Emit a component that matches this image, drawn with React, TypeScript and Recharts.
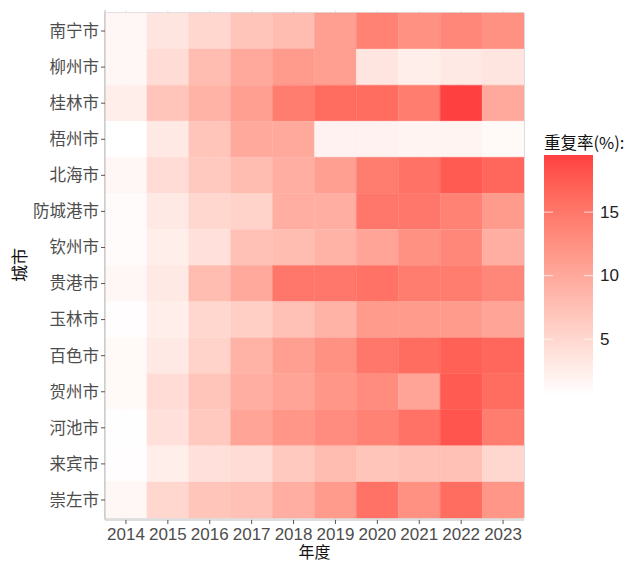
import React from 'react';
import { BarChart, Bar, XAxis, YAxis, Cell, CartesianGrid, ReferenceArea } from 'recharts';

const cities = ['南宁市', '柳州市', '桂林市', '梧州市', '北海市', '防城港市', '钦州市', '贵港市', '玉林市', '百色市', '贺州市', '河池市', '来宾市', '崇左市'];
const years = ['2014', '2015', '2016', '2017', '2018', '2019', '2020', '2021', '2022', '2023'];

// 重复率(%) per city, one value per year 2014..2023
const nanning = [1.5, 3.5, 5.0, 7.0, 8.0, 11.0, 14.0, 12.5, 13.5, 12.5];
const liuzhou = [1.5, 4.5, 8.0, 10.0, 11.5, 11.0, 3.5, 2.5, 3.0, 3.5];
const guilin = [2.5, 7.0, 9.0, 11.0, 14.5, 16.0, 16.0, 14.5, 19.5, 10.0];
const wuzhou = [0.6, 3.0, 7.0, 10.0, 10.0, 2.0, 2.0, 1.8, 1.8, 1.3];
const beihai = [1.5, 4.5, 6.5, 8.0, 9.5, 11.0, 14.5, 15.5, 17.5, 16.5];
const fangchenggang = [1.0, 3.0, 5.0, 5.5, 9.5, 9.5, 15.0, 15.0, 14.0, 11.5];
const qinzhou = [1.0, 2.5, 4.0, 7.5, 8.0, 9.0, 10.5, 12.5, 13.5, 9.5];
const guigang = [1.5, 3.0, 8.0, 10.0, 15.0, 15.0, 15.5, 14.5, 14.5, 13.5];
const yulin = [0.8, 2.5, 5.0, 6.0, 7.5, 9.0, 11.5, 11.5, 11.5, 10.5];
const baise = [1.2, 3.0, 5.5, 9.0, 11.0, 12.5, 15.0, 16.0, 17.0, 16.5];
const hezhou = [1.2, 4.5, 7.0, 9.5, 10.5, 12.0, 13.0, 10.5, 17.5, 16.0];
const hechi = [0.7, 4.0, 6.5, 10.5, 12.0, 13.0, 14.0, 15.5, 18.0, 14.5];
const laibin = [0.8, 2.5, 4.0, 4.5, 6.5, 8.0, 7.0, 7.5, 7.5, 5.0];
const chongzuo = [1.5, 5.0, 7.0, 7.5, 9.5, 11.5, 15.5, 12.5, 16.0, 12.0];

const rates = [nanning, liuzhou, guilin, wuzhou, beihai, fangchenggang, qinzhou, guigang, yulin, baise, hezhou, hechi, laibin, chongzuo];
const legendTicks = [5, 10, 15];

const FONT = '"Noto Sans CJK SC", "Noto Sans", sans-serif';
const NUMFONT = '"Liberation Sans", Arial, sans-serif';
const LOW = [255, 255, 255];
const HIGH = [255, 64, 64];

const allVals = rates.flat();
const vMin = Math.min(...allVals);
const vMax = Math.max(...allVals);

function lin(c: number) { c /= 255; return c <= 0.04045 ? c / 12.92 : Math.pow((c + 0.055) / 1.055, 2.4); }
function gam(c: number) { const v = c <= 0.0031308 ? 12.92 * c : 1.055 * Math.pow(c, 1 / 2.4) - 0.055; return Math.round(Math.max(0, Math.min(1, v)) * 255); }
const Xn = 0.95047, Yn = 1.0, Zn = 1.08883;
function f(t: number) { return t > 216 / 24389 ? Math.cbrt(t) : (24389 / 27 * t + 16) / 116; }
function finv(t: number) { const t3 = t * t * t; return t3 > 216 / 24389 ? t3 : (116 * t - 16) / (24389 / 27); }
function toLab(rgb: number[]) {
  const [r, g, b] = rgb.map(lin);
  const X = 0.4124 * r + 0.3576 * g + 0.1805 * b;
  const Y = 0.2126 * r + 0.7152 * g + 0.0722 * b;
  const Z = 0.0193 * r + 0.1192 * g + 0.9505 * b;
  const fx = f(X / Xn), fy = f(Y / Yn), fz = f(Z / Zn);
  return [116 * fy - 16, 500 * (fx - fy), 200 * (fy - fz)];
}
function fromLab(lab: number[]) {
  const fy = (lab[0] + 16) / 116, fx = fy + lab[1] / 500, fz = fy - lab[2] / 200;
  const X = finv(fx) * Xn, Y = finv(fy) * Yn, Z = finv(fz) * Zn;
  const r = 3.2406 * X - 1.5372 * Y - 0.4986 * Z;
  const g = -0.9689 * X + 1.8758 * Y + 0.0415 * Z;
  const b = 0.0557 * X - 0.2040 * Y + 1.0570 * Z;
  return `rgb(${gam(r)},${gam(g)},${gam(b)})`;
}
const labLow = toLab(LOW), labHigh = toLab(HIGH);
function colorAt(t: number) {
  const tt = Math.max(0, Math.min(1, t));
  return fromLab(labLow.map((v, i) => v + (labHigh[i] - v) * tt));
}
function colorFor(v: number) { return colorAt((v - vMin) / (vMax - vMin)); }

const data = cities.map((city) => {
  const row: Record<string, string | number> = { city };
  years.forEach((y) => { row[y] = 1; });
  return row;
});

const xTicks = years.map((_, i) => i + 0.5);

const YTitle = (props: any) => {
  const vb = props.viewBox || {};
  const cx = (vb.x || 0) + 18;
  const cy = (vb.y || 0) + (vb.height || 0) / 2;
  return (
    <text x={cx} y={cy} transform={`rotate(-90 ${cx} ${cy})`} textAnchor="middle" dominantBaseline="central"
      fontSize={17} fontFamily={FONT} fill="#111">城市</text>
  );
};

const XTitle = (props: any) => {
  const vb = props.viewBox || {};
  const cx = (vb.x || 0) + (vb.width || 0) / 2;
  return (
    <text x={cx} y={551} textAnchor="middle" dominantBaseline="central"
      fontSize={16} fontFamily={FONT} fill="#111">年度</text>
  );
};

const ColorLegend = () => {
  const barTop = 30, barBottom = 270, barLeft = 9, barW = 49;
  const yOf = (v: number) => barBottom - ((v - vMin) / (vMax - vMin)) * (barBottom - barTop);
  const stops = Array.from({ length: 21 }, (_, i) => i / 20);
  return (
    <svg width={92} height={285} style={{ position: 'absolute', left: 535, top: 125 }}>
      <defs>
        <linearGradient id="legGrad" x1="0" y1="1" x2="0" y2="0">
          {stops.map((s) => <stop key={s} offset={s} stopColor={colorAt(s)} />)}
        </linearGradient>
      </defs>
      <text x={barLeft} y={24} fontSize={16.5} fontFamily={FONT} fill="#111">重复率(%):</text>
      <rect x={barLeft} y={barTop} width={barW} height={barBottom - barTop} fill="url(#legGrad)" />
      {legendTicks.map((v) => (
        <g key={v}>
          <line x1={barLeft} x2={barLeft + 9} y1={yOf(v)} y2={yOf(v)} stroke="#fff" strokeWidth={1} opacity={0.7} />
          <line x1={barLeft + barW - 9} x2={barLeft + barW} y1={yOf(v)} y2={yOf(v)} stroke="#fff" strokeWidth={1} opacity={0.7} />
          <text x={barLeft + barW + 7} y={yOf(v)} dominantBaseline="central" fontSize={17} fontFamily={NUMFONT} fill="#222">{v}</text>
        </g>
      ))}
    </svg>
  );
};

export default function App() {
  return (
    <div style={{ position: 'absolute', left: 0, top: 0, width: 627, height: 562, background: '#fff' }}>
      <BarChart
        width={627}
        height={562}
        data={data}
        layout="vertical"
        margin={{ top: 10, right: 103, bottom: 0, left: 0 }}
        barCategoryGap={0}
        barGap={0}
      >
        <CartesianGrid horizontal={false} vertical stroke="#EBEBEB" verticalValues={xTicks} />
        <XAxis
          type="number"
          domain={[0, years.length]}
          ticks={xTicks}
          allowDataOverflow
          tickFormatter={(v: number) => years[Math.floor(v)]}
          height={42}
          tickSize={4}
          tickMargin={4}
          axisLine={{ stroke: '#BDBDBD' }}
          tickLine={{ stroke: '#555' }}
          tick={{ fontSize: 17, fill: '#4D4D4D', fontFamily: NUMFONT }}
          interval={0}
          label={<XTitle />}
        />
        <YAxis
          type="category"
          dataKey="city"
          width={105}
          tickSize={4}
          tickMargin={2}
          padding={{ top: 3, bottom: 2 }}
          axisLine={{ stroke: '#BDBDBD' }}
          tickLine={{ stroke: '#555' }}
          tick={{ fontSize: 16.5, fill: '#4D4D4D', fontFamily: FONT }}
          interval={0}
          label={<YTitle />}
        />
        {years.map((y, j) => (
          <Bar key={y} dataKey={y} stackId="tiles" isAnimationActive={false}>
            {cities.map((c, i) => (
              <Cell key={c} fill={colorFor(rates[i][j])} stroke={colorFor(rates[i][j])} strokeWidth={0.4} />
            ))}
          </Bar>
        ))}
        <ReferenceArea x1={0} x2={years.length} fill="none" stroke="#BDBDBD" strokeWidth={1} ifOverflow="visible" />
      </BarChart>
      <ColorLegend />
    </div>
  );
}
